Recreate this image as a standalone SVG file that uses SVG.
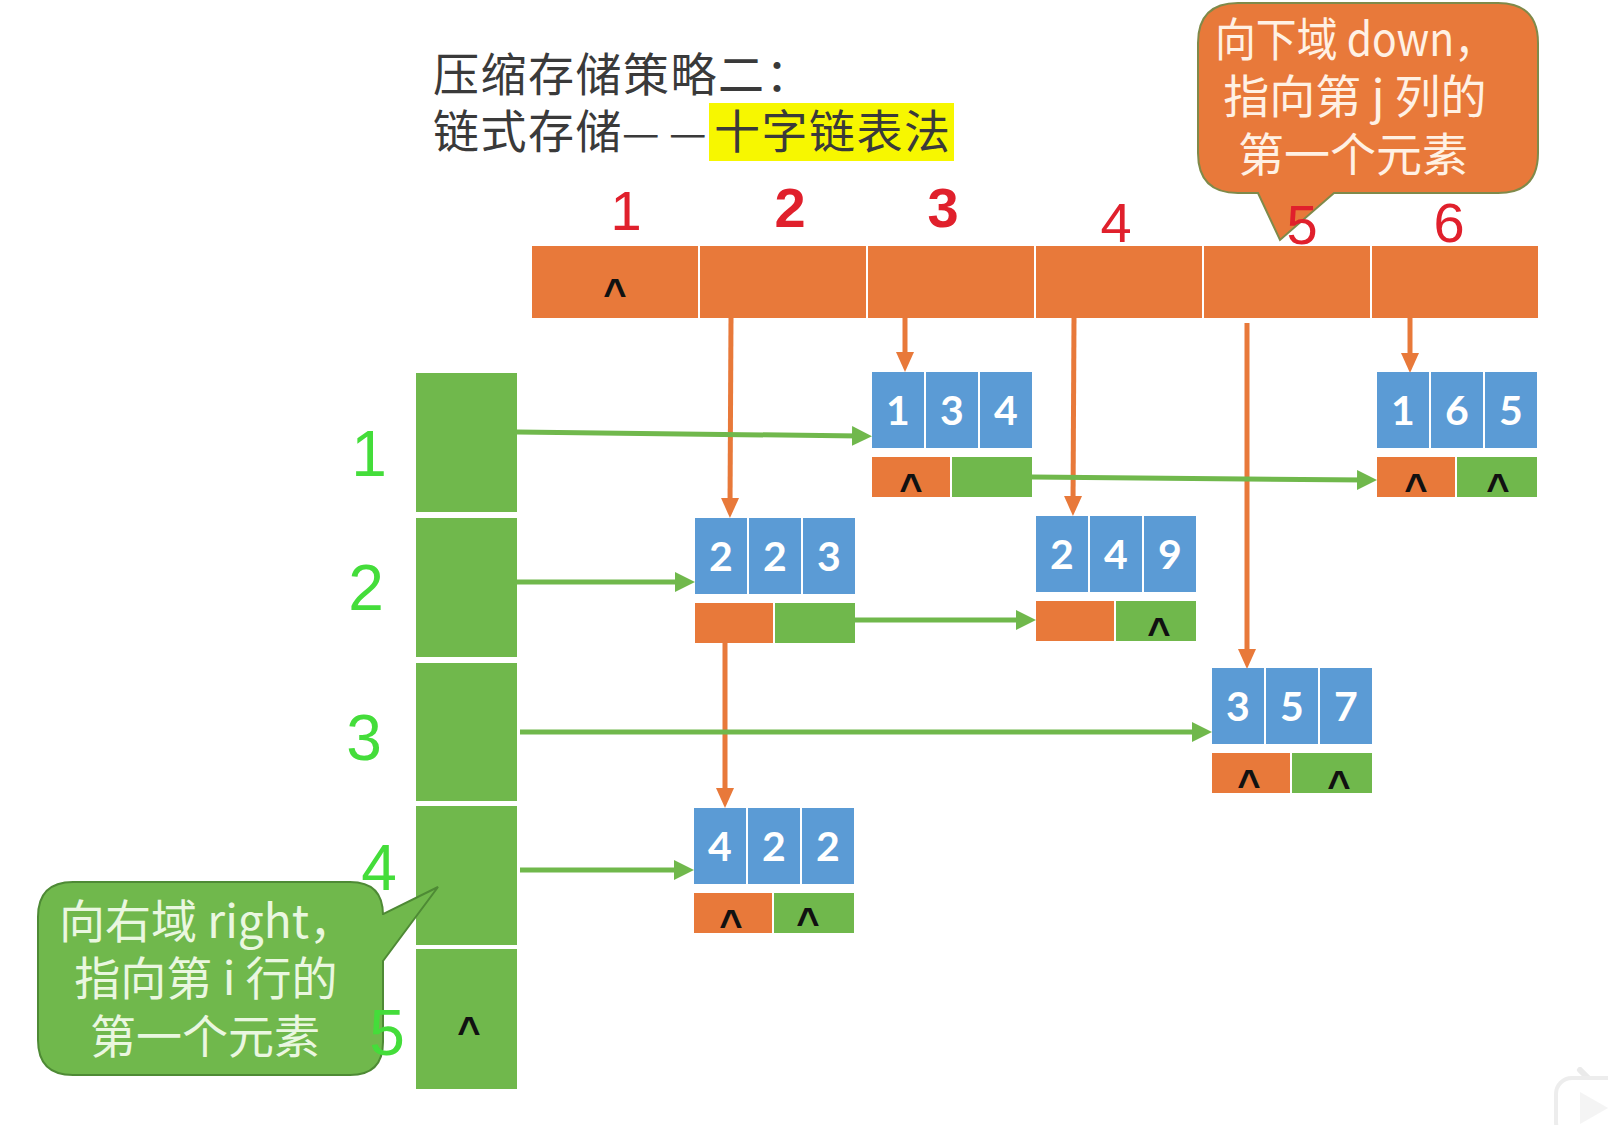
<svg xmlns="http://www.w3.org/2000/svg" width="1608" height="1125" viewBox="0 0 1608 1125">
<style>
.bg{fill:#ffffff}
.org{fill:#E8793A}
.grn{fill:#70B84C}
.blu{fill:#5B9BD5}
.dig{font-family:Lato,"Open Sans","Liberation Sans",sans-serif;font-weight:bold;font-size:41px;fill:#ffffff;text-anchor:middle}
.car{font-family:"Liberation Sans",Arial,sans-serif;font-size:40px;font-weight:bold;fill:#111111;text-anchor:middle}
.title{font-family:"Noto Sans CJK SC","Noto Sans",sans-serif;font-size:46px;fill:#3a3a3a;letter-spacing:1.5px}
.call{font-family:"Noto Sans CJK SC","Noto Sans",sans-serif;font-size:46px;text-anchor:middle}
.hr{font-family:"Liberation Sans",Arial,sans-serif;font-size:56px;fill:#E0202C;text-anchor:middle}
.hg{font-family:"Liberation Sans",Arial,sans-serif;font-size:64px;fill:#44DD3A;text-anchor:middle}
.ca{stroke:#E8793A;stroke-width:5;fill:none}
.cg{stroke:#70B84C;stroke-width:5;fill:none}
</style>
<defs>
<marker id="ao" viewBox="0 0 20 20" markerWidth="20" markerHeight="20" refX="8" refY="10" orient="auto" markerUnits="userSpaceOnUse"><path d="M0,1 L20,10 L0,19 z" fill="#E8793A"/></marker>
<marker id="ag" viewBox="0 0 20 22" markerWidth="20" markerHeight="22" refX="8" refY="11" orient="auto" markerUnits="userSpaceOnUse"><path d="M0,1 L20,11 L0,21 z" fill="#70B84C"/></marker>
<g id="nodeShape">
<rect class="blu" x="0" y="0" width="52" height="76"/>
<rect class="blu" x="54" y="0" width="52" height="76"/>
<rect class="blu" x="108" y="0" width="52" height="76"/>
<rect class="org" x="0" y="85" width="78" height="40"/>
<rect class="grn" x="80" y="85" width="80" height="40"/>
</g>
</defs>
<rect class="bg" x="0" y="0" width="1608" height="1125"/>

<!-- title -->
<g id="title">
<rect x="709" y="103" width="245" height="58" fill="#F7F700"/>
<text class="title" x="433" y="91">压缩存储策略二：</text>
<text class="title" y="148"><tspan x="433">链式存储</tspan><tspan x="622" font-size="42">—</tspan><tspan x="669" font-size="42">—</tspan><tspan x="714">十字链表法</tspan></text>
</g>

<!-- column header -->
<g id="colHeader">
<rect class="org" x="532" y="246" width="166" height="72"/>
<rect class="org" x="700" y="246" width="166" height="72"/>
<rect class="org" x="868" y="246" width="166" height="72"/>
<rect class="org" x="1036" y="246" width="166" height="72"/>
<rect class="org" x="1204" y="246" width="166" height="72"/>
<rect class="org" x="1372" y="246" width="166" height="72"/>
<text class="car" x="615" y="307">^</text>
</g>

<!-- row header -->
<g id="rowHeader">
<rect class="grn" x="416" y="373" width="101" height="139"/>
<rect class="grn" x="416" y="518" width="101" height="139"/>
<rect class="grn" x="416" y="663" width="101" height="138"/>
<rect class="grn" x="416" y="806" width="101" height="139"/>
<rect class="grn" x="416" y="949" width="101" height="140"/>
<text class="car" x="469" y="1045">^</text>
</g>

<!-- connectors -->
<g id="connectors">
<path class="ca" d="M731,318 L730,506" marker-end="url(#ao)"/>
<path class="ca" d="M905,318 L905,360" marker-end="url(#ao)"/>
<path class="ca" d="M1074,318 L1073,504" marker-end="url(#ao)"/>
<path class="ca" d="M1247,323 L1247,657" marker-end="url(#ao)"/>
<path class="ca" d="M1410,318 L1410,361" marker-end="url(#ao)"/>
<path class="ca" d="M725,643 L725,796" marker-end="url(#ao)"/>
<path class="cg" d="M517,432 L860,436" marker-end="url(#ag)"/>
<path class="cg" d="M1032,477 L1365,480" marker-end="url(#ag)"/>
<path class="cg" d="M517,582 L683,582" marker-end="url(#ag)"/>
<path class="cg" d="M855,620 L1024,620" marker-end="url(#ag)"/>
<path class="cg" d="M520,732 L1200,732" marker-end="url(#ag)"/>
<path class="cg" d="M520,870 L682,870" marker-end="url(#ag)"/>
</g>

<!-- nodes -->
<g id="n134" transform="translate(872,372)">
<use href="#nodeShape"/>
<text class="dig" x="26" y="53">1</text><text class="dig" x="80" y="53">3</text><text class="dig" x="134" y="53">4</text>
<text class="car" x="39" y="130">^</text>
</g>
<g id="n165" transform="translate(1377,372)">
<use href="#nodeShape"/>
<text class="dig" x="26" y="53">1</text><text class="dig" x="80" y="53">6</text><text class="dig" x="134" y="53">5</text>
<text class="car" x="39" y="130">^</text><text class="car" x="121" y="130">^</text>
</g>
<g id="n223" transform="translate(695,518)">
<use href="#nodeShape"/>
<text class="dig" x="26" y="53">2</text><text class="dig" x="80" y="53">2</text><text class="dig" x="134" y="53">3</text>
</g>
<g id="n249" transform="translate(1036,516)">
<use href="#nodeShape"/>
<text class="dig" x="26" y="53">2</text><text class="dig" x="80" y="53">4</text><text class="dig" x="134" y="53">9</text>
<text class="car" x="123" y="130">^</text>
</g>
<g id="n357" transform="translate(1212,668)">
<use href="#nodeShape"/>
<text class="dig" x="26" y="53">3</text><text class="dig" x="80" y="53">5</text><text class="dig" x="134" y="53">7</text>
<text class="car" x="37" y="130">^</text><text class="car" x="127" y="131">^</text>
</g>
<g id="n422" transform="translate(694,808)">
<use href="#nodeShape"/>
<text class="dig" x="26" y="53">4</text><text class="dig" x="80" y="53">2</text><text class="dig" x="134" y="53">2</text>
<text class="car" x="37" y="130">^</text><text class="car" x="114" y="128">^</text>
</g>

<!-- callouts -->
<g id="calloutDown">
<path d="M1238,3 L1498,3 Q1538,3 1538,43 L1538,153 Q1538,193 1498,193 L1334,193 L1280,240 L1258,193 L1238,193 Q1198,193 1198,153 L1198,43 Q1198,3 1238,3 z" fill="#E8793A" stroke="#7F8A4A" stroke-width="2"/>
<text class="call" x="1355" y="56" fill="#FFF1E4" textLength="280" lengthAdjust="spacingAndGlyphs">向下域 down，</text>
<text class="call" x="1355" y="113" fill="#FFF1E4">指向第 j 列的</text>
<text class="call" x="1353" y="171" fill="#FFF1E4">第一个元素</text>
</g>
<g id="calloutRight">
<path d="M73,882 L350,882 Q383,882 383,915 L383,914 L438,887 L383,961 L383,1042 Q383,1075 350,1075 L73,1075 Q38,1075 38,1040 L38,917 Q38,882 73,882 z" fill="#70B84C" stroke="#4E8A35" stroke-width="2"/>
<text class="call" x="207" y="938" fill="#EAF7E0">向右域 right，</text>
<text class="call" x="206" y="995" fill="#EAF7E0">指向第 i 行的</text>
<text class="call" x="205" y="1053" fill="#EAF7E0">第一个元素</text>
</g>

<!-- handwritten labels -->
<g id="colLabels">
<text class="hr" x="626" y="230">1</text>
<text class="hr" x="790" y="227" font-weight="bold">2</text>
<text class="hr" x="943" y="227" font-weight="bold">3</text>
<text class="hr" x="1116" y="242">4</text>
<text class="hr" x="1302" y="244">5</text>
<text class="hr" x="1449" y="242">6</text>
</g>
<g id="rowLabels">
<text class="hg" x="369" y="476">1</text>
<text class="hg" x="366" y="610">2</text>
<text class="hg" x="364" y="760">3</text>
<text class="hg" x="379" y="890">4</text>
<text class="hg" x="387" y="1055">5</text>
</g>

<!-- faint watermark icon -->
<g id="watermark" opacity="0.6">
<path d="M1580,1070 L1592,1082" stroke="#dddddd" stroke-width="6" stroke-linecap="round"/>
<rect x="1556" y="1078" width="70" height="60" rx="16" fill="#ffffff" stroke="#e2e2e2" stroke-width="4"/>
<path d="M1580,1092 L1608,1108 L1580,1124 z" fill="#eeeeee"/>
</g>
</svg>
